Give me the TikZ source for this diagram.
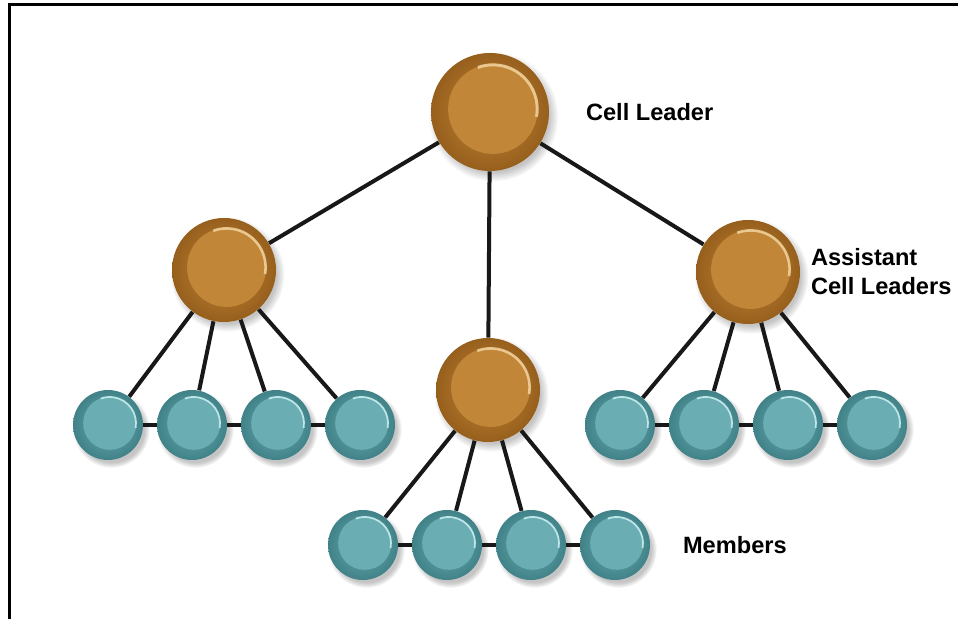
\documentclass[tikz,border=0pt]{standalone}
\usepackage{fontspec}
\setmainfont{Liberation Sans}
\usetikzlibrary{positioning,shadows}

\definecolor{goldrim}{RGB}{150,95,28}
\definecolor{goldface}{RGB}{194,134,56}
\definecolor{goldglow}{RGB}{242,212,160}
\definecolor{tealrim}{RGB}{64,130,136}
\definecolor{tealface}{RGB}{106,174,180}
\definecolor{tealglow}{RGB}{205,242,244}
\definecolor{linkgray}{RGB}{24,24,24}

\tikzset{
  orb/.style 2 args={circle, inner sep=0pt, minimum size=2*#2,
    circular drop shadow={shadow xshift=1.5pt, shadow yshift=-2pt, opacity=0.45},
    shading=radial, inner color=#1face, outer color=#1rim,
    path picture={
      \fill[#1face] ([shift={(0.05*#2,0.05*#2)}]path picture bounding box.center)
        circle[radius=0.76*#2];
      \draw[#1glow, line width=0.05*#2, opacity=0.85]
        ([shift={(0.05*#2,0.05*#2)}]path picture bounding box.center) ++(-10:0.75*#2)
        arc[start angle=-10, end angle=110, radius=0.75*#2];
    }},
  leader/.style={orb={gold}{29.5pt}},
  assistant/.style={orb={gold}{26pt}},
  member/.style={orb={teal}{17.5pt}},
  link/.style={draw=linkgray, line width=2pt},
  tag/.style={anchor=west, align=left, font=\bfseries\fontsize{11.8pt}{14.5pt}\selectfont}
}

\begin{document}
\begin{tikzpicture}[x=0.5pt,y=-0.5pt,node distance=42pt,on grid]
  \useasboundingbox (0,0) rectangle (958,619);
  \fill[white] (0,0) rectangle (958,619);
  \draw[line width=1.5pt] (958,5) -- (9,5) -- (9,619);

  % leaders
  \node[leader] (lead) at (490,112) {};
  \node[assistant] (astL) at (224,270) {};
  \node[assistant] (astC) at (488,390) {};
  \node[assistant] (astR) at (748,272) {};

  % members, left group
  \node[member] (l1) at (108,425) {};
  \node[member] (l2) [right=of l1] {};
  \node[member] (l3) [right=of l2] {};
  \node[member] (l4) [right=of l3] {};
  % members, right group
  \node[member] (r1) at (620,425) {};
  \node[member] (r2) [right=of r1] {};
  \node[member] (r3) [right=of r2] {};
  \node[member] (r4) [right=of r3] {};
  % members, centre group
  \node[member] (c1) at (363,545) {};
  \node[member] (c2) [right=of c1] {};
  \node[member] (c3) [right=of c2] {};
  \node[member] (c4) [right=of c3] {};

  \path[link]
    (lead) edge (astL)
    (lead) edge (astC)
    (lead) edge (astR)
    (astL) edge (l1) (astL) edge (l2) (astL) edge (l3) (astL) edge (l4)
    (astR) edge (r1) (astR) edge (r2) (astR) edge (r3) (astR) edge (r4)
    (astC) edge (c1) (astC) edge (c2) (astC) edge (c3) (astC) edge (c4)
    (l1) edge (l2) (l2) edge (l3) (l3) edge (l4)
    (r1) edge (r2) (r2) edge (r3) (r3) edge (r4)
    (c1) edge (c2) (c2) edge (c3) (c3) edge (c4);

  \node[tag] (tagLead) at (579,112) {Cell Leader};
  \node[tag] (tagAst) at (804,272) {Assistant\\Cell Leaders};
  \node[tag] (tagMem) at (676,545) {Members};
\end{tikzpicture}
\end{document}
